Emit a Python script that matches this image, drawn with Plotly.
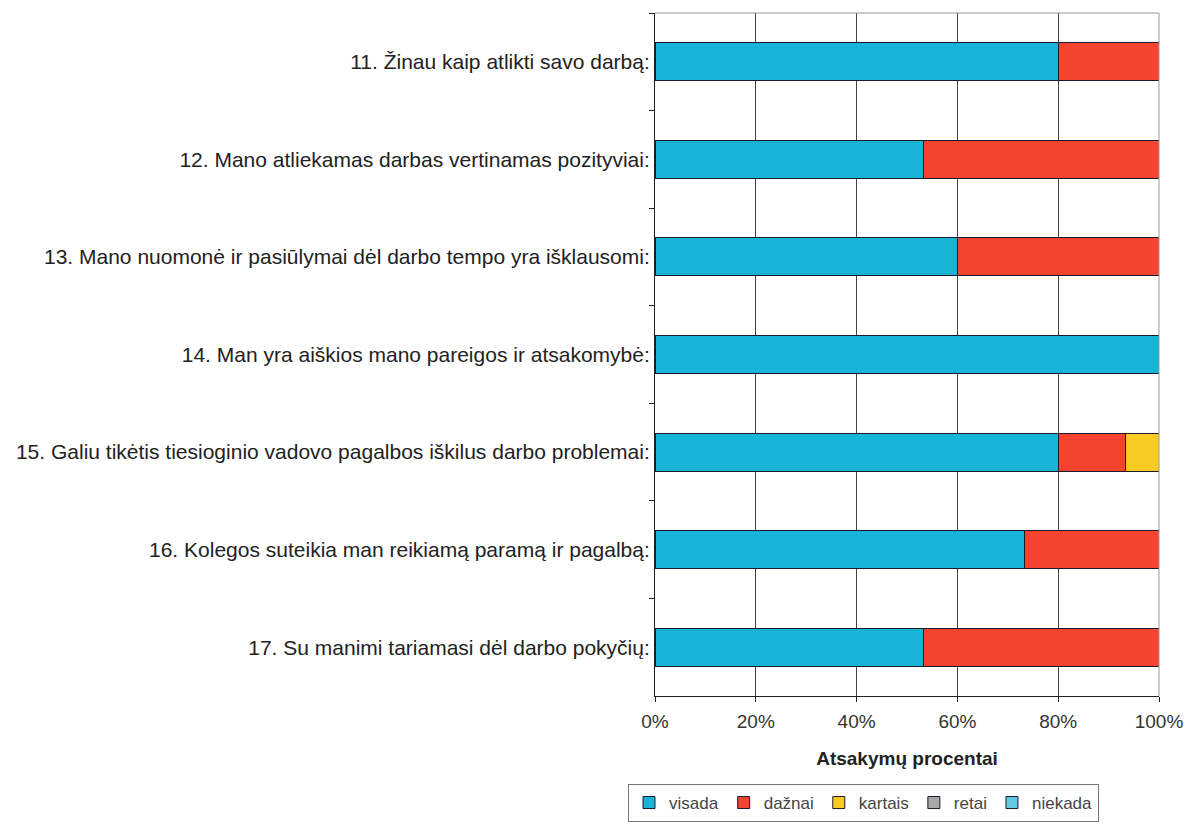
import plotly.graph_objects as go

categories = [
    "11. Žinau kaip atlikti savo darbą:",
    "12. Mano atliekamas darbas vertinamas pozityviai:",
    "13. Mano nuomonė ir pasiūlymai dėl darbo tempo yra išklausomi:",
    "14. Man yra aiškios mano pareigos ir atsakomybė:",
    "15. Galiu tikėtis tiesioginio vadovo pagalbos iškilus darbo problemai:",
    "16. Kolegos suteikia man reikiamą paramą ir pagalbą:",
    "17. Su manimi tariamasi dėl darbo pokyčių:",
]
visada = [80, 53.3, 60, 100, 80, 73.3, 53.3]
daznai = [20, 46.7, 40, 0, 13.3, 26.7, 46.7]
kartais = [0, 0, 0, 0, 6.7, 0, 0]
retai = [0, 0, 0, 0, 0, 0, 0]
niekada = [0, 0, 0, 0, 0, 0, 0]

x_tickvals = [0, 20, 40, 60, 80, 100]
x_ticktext = ["0%", "20%", "40%", "60%", "80%", "100%"]

series = [
    ("visada", visada, "#17B4D6"),
    ("dažnai", daznai, "#F4432F"),
    ("kartais", kartais, "#F8CB22"),
    ("retai", retai, "#A8A8A8"),
    ("niekada", niekada, "#63C9E3"),
]

fig = go.Figure()
for name, vals, col in series:
    fig.add_trace(go.Bar(
        y=categories, x=vals, name=name, orientation="h",
        marker=dict(color=col, line=dict(color="#1a1a2a", width=1)),
        width=0.39,
    ))

fig.update_layout(
    barmode="stack",
    width=1189, height=830,
    margin=dict(l=655, r=30, t=13, b=134),
    paper_bgcolor="white", plot_bgcolor="white",
    font=dict(family="Liberation Sans, Arial, sans-serif", size=21, color="#222"),
    xaxis=dict(
        range=[0, 100], tickmode="array", tickvals=x_tickvals, ticktext=x_ticktext,
        showgrid=True, gridcolor="#444", gridwidth=1,
        showline=True, linecolor="#222", linewidth=1,
        ticks="outside", ticklen=5, tickcolor="#222",
        ticklabelstandoff=3, automargin=False,
        tickfont=dict(size=19, color="#333"),
        title=dict(text="<b>Atsakymų procentai</b>", font=dict(size=19, color="#222"), standoff=20),
        zeroline=False,
    ),
    yaxis=dict(
        autorange="reversed", type="category", automargin=False,
        showline=True, linecolor="#222", linewidth=1,
        ticks="outside", ticklen=5, tickcolor="#222", tickson="boundaries",
        showgrid=False, tickfont=dict(size=21, color="#222"),
    ),
    legend=dict(
        orientation="h", xref="container", yref="container",
        x=628 / 1189, xanchor="left", y=(830 - 784) / 830, yanchor="top",
        bordercolor="#777", borderwidth=1, bgcolor="white",
        font=dict(size=17, color="#444"),
        itemwidth=30, traceorder="normal",
    ),
    shapes=[
        dict(type="line", xref="paper", yref="paper", x0=0, x1=1, y0=1, y1=1,
             line=dict(color="#999", width=1)),
        dict(type="line", xref="paper", yref="paper", x0=1, x1=1, y0=0, y1=1,
             line=dict(color="#999", width=1)),
    ],
)

fig.write_html("out.html")
